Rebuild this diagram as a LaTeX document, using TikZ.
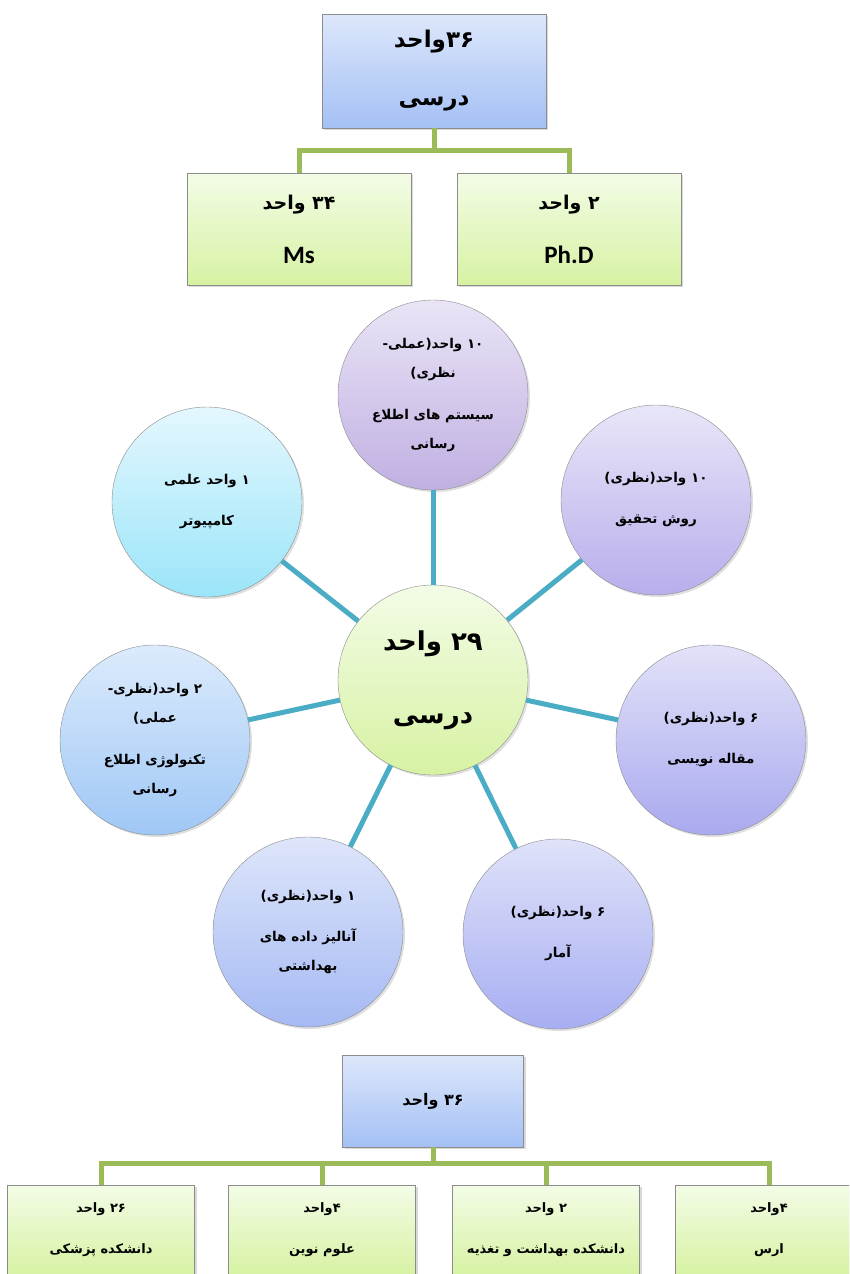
\documentclass[tikz,border=0pt]{standalone}
\usepackage{fontspec}
\setmainfont{Carlito}
\newfontfamily\arabicfont[Script=Arabic]{DejaVu Sans}
\TeXXeTstate=1
\usetikzlibrary{shadows}

\newcommand{\fa}[1]{\beginR #1\endR}

\definecolor{treegreen}{HTML}{9BBB59}
\definecolor{spokeblue}{HTML}{4BACC6}
\definecolor{boxedge}{HTML}{8C8C8C}
\definecolor{blueTop}{HTML}{DDE7FB}
\definecolor{blueBot}{HTML}{A4C0F5}
\definecolor{greenTop}{HTML}{F3FCE6}
\definecolor{greenBot}{HTML}{D7F2A3}

\tikzstyle{bluebox} = [rectangle, draw=boxedge, top color=blueTop, bottom color=blueBot, drop shadow={opacity=0.3, shadow xshift=2pt, shadow yshift=-2pt}, align=center, inner sep=0pt]
\tikzstyle{greenbox} = [rectangle, draw=boxedge, top color=greenTop, bottom color=greenBot, drop shadow={opacity=0.3, shadow xshift=2pt, shadow yshift=-2pt}, align=center, inner sep=0pt]
\tikzstyle{bubble} = [circle, draw=boxedge, minimum size=190pt, inner sep=0pt, align=center, drop shadow={opacity=0.25, shadow xshift=2pt, shadow yshift=-2pt}, font=\arabicfont\bfseries\fontsize{13.5}{29}\selectfont]
\tikzstyle{tree} = [treegreen, line width=5pt]
\tikzstyle{spoke} = [spokeblue, line width=5pt]

\begin{document}
\begin{tikzpicture}[x=1pt, y=-1pt]
  \useasboundingbox (0,0) rectangle (849,1274);
  \clip (0,0) rectangle (849,1274);

  % tree at the top
  \node[bluebox, minimum width=224pt, minimum height=114pt, font=\arabicfont\bfseries\fontsize{23}{58}\selectfont] (total) at (434,71) {\fa{۳۶واحد}\\\fa{درسی}};
  \node[greenbox, minimum width=224pt, minimum height=112pt, font=\arabicfont\bfseries\fontsize{19}{54}\selectfont] (ms) at (299,229) {\fa{۳۴ واحد}\\{\rmfamily\bfseries\fontsize{25}{54}\selectfont Ms}};
  \node[greenbox, minimum width=224pt, minimum height=112pt, font=\arabicfont\bfseries\fontsize{19}{54}\selectfont] (phd) at (569,229) {\fa{۲ واحد}\\{\rmfamily\bfseries\fontsize{25}{54}\selectfont Ph.D}};

  \draw[tree] (total.south) -- ++(0,22) -| (ms.north);
  \draw[tree] (total.south) -- ++(0,22) -| (phd.north);

  % center and bubbles
  \node[bubble, top color=greenTop, bottom color=greenBot, font=\arabicfont\bfseries\fontsize{26}{73}\selectfont] (hub) at (433,680) {\fa{۲۹ واحد}\\\fa{درسی}};

  \node[bubble, top color={rgb,255:red,234;green,228;blue,246}, bottom color={rgb,255:red,192;green,176;blue,226}] (sys) at (433,395) {\fa{۱۰ واحد(عملی-}\\\fa{نظری)}\\[13pt]\fa{سیستم های اطلاع}\\\fa{رسانی}};
  \node[bubble, top color={rgb,255:red,232;green,230;blue,248}, bottom color={rgb,255:red,184;green,174;blue,236}] (method) at (656,500) {\fa{۱۰ واحد(نظری)}\\[12pt]\fa{روش تحقیق}};
  \node[bubble, top color={rgb,255:red,226;green,226;blue,249}, bottom color={rgb,255:red,169;green,169;blue,239}] (paper) at (711,740) {\fa{۶ واحد(نظری)}\\[12pt]\fa{مقاله نویسی}};
  \node[bubble, top color={rgb,255:red,223;green,226;blue,249}, bottom color={rgb,255:red,167;green,174;blue,242}] (stat) at (558,934) {\fa{۶ واحد(نظری)}\\[12pt]\fa{آمار}};
  \node[bubble, top color={rgb,255:red,222;green,230;blue,251}, bottom color={rgb,255:red,165;green,185;blue,243}] (data) at (308,932) {\fa{۱ واحد(نظری)}\\[12pt]\fa{آنالیز داده های}\\\fa{بهداشتی}};
  \node[bubble, top color={rgb,255:red,220;green,235;blue,252}, bottom color={rgb,255:red,159;green,199;blue,245}] (ict) at (155,740) {\fa{۲ واحد(نظری-}\\\fa{عملی)}\\[13pt]\fa{تکنولوژی اطلاع}\\\fa{رسانی}};
  \node[bubble, top color={rgb,255:red,228;green,247;blue,254}, bottom color={rgb,255:red,155;green,229;blue,249}] (comp) at (207,502) {\fa{۱ واحد علمی}\\[12pt]\fa{کامپیوتر}};

  \draw[spoke] (hub) -- (sys);
  \draw[spoke] (hub) -- (method);
  \draw[spoke] (hub) -- (paper);
  \draw[spoke] (hub) -- (stat);
  \draw[spoke] (hub) -- (data);
  \draw[spoke] (hub) -- (ict);
  \draw[spoke] (hub) -- (comp);

  % tree at the bottom
  \node[bluebox, minimum width=181pt, minimum height=92pt, font=\arabicfont\bfseries\fontsize{16}{41}\selectfont] (units) at (433,1101) {\fa{۳۶ واحد}};
  \node[greenbox, minimum width=187pt, minimum height=90pt, font=\arabicfont\bfseries\fontsize{13}{41}\selectfont] (med) at (101,1230) {\fa{۲۶ واحد}\\\fa{دانشکده پزشکی}};
  \node[greenbox, minimum width=187pt, minimum height=90pt, font=\arabicfont\bfseries\fontsize{13}{41}\selectfont] (novel) at (322,1230) {\fa{۴واحد}\\\fa{علوم نوین}};
  \node[greenbox, minimum width=187pt, minimum height=90pt, font=\arabicfont\bfseries\fontsize{13}{41}\selectfont] (health) at (546,1230) {\fa{۲ واحد}\\\fa{دانشکده بهداشت و تغذیه}};
  \node[greenbox, minimum width=187pt, minimum height=90pt, font=\arabicfont\bfseries\fontsize{13}{41}\selectfont] (aras) at (769,1230) {\fa{۴واحد}\\\fa{ارس}};

  \draw[tree] (units.south) -- ++(0,16) -| (med.north);
  \draw[tree] (units.south) -- ++(0,16) -| (novel.north);
  \draw[tree] (units.south) -- ++(0,16) -| (health.north);
  \draw[tree] (units.south) -- ++(0,16) -| (aras.north);
\end{tikzpicture}
\end{document}
